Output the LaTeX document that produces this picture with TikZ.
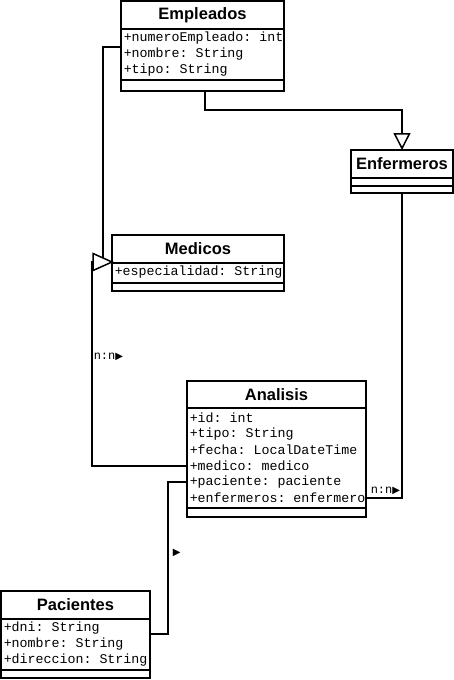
\documentclass[tikz,border=0pt]{standalone}
\usepackage{fontspec}
\setmainfont{Liberation Sans}
\setmonofont{Liberation Mono}
\newfontfamily\symfont{DejaVu Sans}
\usetikzlibrary{arrows.meta,calc}
\begin{document}
\begin{tikzpicture}[x=1pt,y=-1pt,line width=1.5pt,
  box/.style={draw,rectangle,inner sep=0pt,outer sep=0pt,anchor=north west},
  ctitle/.style={font=\fontsize{16.5}{19}\selectfont\bfseries,inner sep=0pt},
  attr/.style={font=\fontsize{13.3}{15}\ttfamily,anchor=west,inner sep=0pt},
  lbl/.style={font=\fontsize{12}{14}\ttfamily,anchor=west,inner sep=0pt},
  conn/.style={line width=1.5pt},
  inh/.style={conn,-{Triangle[open,length=17pt,width=17pt,line width=1.5pt]}}]
\fill[white] (0,0) rectangle (454,680);
\useasboundingbox (0,0) rectangle (454,680);

% Empleados
\node[box,minimum width=163pt,minimum height=90pt] (emp) at (121,1) {};
\draw (emp.west |- 0,29) -- (emp.east |- 0,29);
\draw (emp.west |- 0,80) -- (emp.east |- 0,80);
\node[ctitle] (empT) at (202.5,15) {Empleados};
\node[attr] (empA1) at (123,38) {+numeroEmpleado: int};
\node[attr] (empA2) at (123,54) {+nombre: String};
\node[attr] (empA3) at (123,70) {+tipo: String};

% Enfermeros
\node[box,minimum width=102pt,minimum height=43pt] (enf) at (351,150) {};
\draw (enf.west |- 0,178) -- (enf.east |- 0,178);
\draw (enf.west |- 0,186) -- (enf.east |- 0,186);
\node[ctitle] (enfT) at (402,164) {Enfermeros};

% Medicos
\node[box,minimum width=172pt,minimum height=56pt] (med) at (112,235) {};
\draw (med.west |- 0,263) -- (med.east |- 0,263);
\draw (med.west |- 0,283) -- (med.east |- 0,283);
\node[ctitle] (medT) at (198,249) {Medicos};
\node[attr] (medA1) at (114,272) {+especialidad: String};

% Analisis
\node[box,minimum width=179pt,minimum height=136pt] (ana) at (187,381) {};
\draw (ana.west |- 0,408) -- (ana.east |- 0,408);
\draw (ana.west |- 0,508) -- (ana.east |- 0,508);
\node[ctitle] (anaT) at (276.5,395) {Analisis};
\node[attr] (anaA1) at (189,418) {+id: int};
\node[attr] (anaA2) at (189,434) {+tipo: String};
\node[attr] (anaA3) at (189,450) {+fecha: LocalDateTime};
\node[attr] (anaA4) at (189,466) {+medico: medico};
\node[attr] (anaA5) at (189,482) {+paciente: paciente};
\node[attr] (anaA6) at (189,498) {+enfermeros: enfermero};

% Pacientes
\node[box,minimum width=149pt,minimum height=87pt] (pac) at (1,591) {};
\draw (pac.west |- 0,619) -- (pac.east |- 0,619);
\draw (pac.west |- 0,670) -- (pac.east |- 0,670);
\node[ctitle] (pacT) at (75.5,605) {Pacientes};
\node[attr] (pacA1) at (3,628) {+dni: String};
\node[attr] (pacA2) at (3,644) {+nombre: String};
\node[attr] (pacA3) at (3,660) {+direccion: String};

% Connectors
\coordinate (medIn) at (med.west |- 0,262);
\draw[inh] (emp.south -| 205,0) |- (402,110) -- (enf.north);
\draw[conn] (emp.west |- 0,47) -| (103,262);
\draw[conn] (ana.west |- 0,466) -| (92,262) -- (medIn);
\draw[conn,fill=white] (medIn) -- ++(-19,8.5) -- ++(0,-17) -- cycle;
\draw[conn] (ana.west |- 0,482) -| (168,634) -- (pac.east |- 0,634);
\draw[conn] (enf.south) |- (ana.east |- 0,498);

% Labels
\node[lbl] (l1) at (93,357) {n:n{\symfont\fontsize{10}{12}\selectfont▶}};
\node[lbl] (l2) at (370,491) {n:n{\symfont\fontsize{10}{12}\selectfont▶}};
\node[lbl] (l3) at (172,553) {{\symfont\fontsize{10}{12}\selectfont▶}};
\end{tikzpicture}
\end{document}
